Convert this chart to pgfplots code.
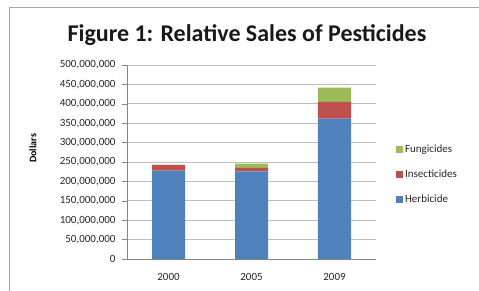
\documentclass[border=0pt]{standalone}
\usepackage{pgfplots}
\pgfplotsset{compat=1.18}
\usepackage{fontspec}
\setmainfont{Carlito}
\definecolor{exblue}{HTML}{4F81BD}
\definecolor{exred}{HTML}{C0504D}
\definecolor{exgreen}{HTML}{9BBB59}
\definecolor{gridc}{HTML}{BEBEBE}
\definecolor{axc}{HTML}{868686}
\begin{document}
\begin{tikzpicture}
\useasboundingbox (0pt,0pt) rectangle (479pt,291pt);
\draw[gray!70, line width=1pt] (9pt,0pt) -- (9pt,283pt) -- (479pt,283pt);
\node[font=\bfseries\fontsize{24}{28}\selectfont, text=black!90] at (247pt,256pt) {Figure 1: Relative Sales of Pesticides};
\begin{axis}[
  at={(127pt,32pt)}, anchor=south west,
  scale only axis, width=249pt, height=194pt,
  ybar stacked, bar width=33pt,
  xmin=-0.5, xmax=2.5, ymin=0, ymax=500000000,
  xtick={0,1,2}, xticklabels={2000,2005,2009},
  extra x ticks={-0.5,0.5,1.5,2.5}, extra x tick labels={},
  extra x tick style={major tick length=5pt, tick style={axc}, grid=none},
  xtick style={draw=none},
  ytick={0,50000000,...,500000000},
  scaled y ticks=false,
  yticklabel style={/pgf/number format/fixed, /pgf/number format/1000 sep={,}, font=\fontsize{11}{12}\selectfont, text=black!85, xshift=-3pt},
  xticklabel style={font=\fontsize{11}{12}\selectfont, text=black!85, yshift=-6pt},
  /pgf/number format/assume math mode=true,
  ymajorgrids, grid style={gridc, line width=0.8pt},
  axis x line*=bottom, axis y line*=left,
  axis line style={axc, line width=0.8pt},
  y axis line style={-}, x axis line style={-},
  ytick style={axc}, major tick length=5pt,
  tick align=outside,
  ylabel={\textbf{Dollars}}, ylabel style={font=\fontsize{10}{11}\selectfont, at={(axis description cs:-0.378,0.57)}, anchor=center},
  legend style={at={(1.08,0.60)}, anchor=north west, draw=none, font=\fontsize{11}{12}\selectfont, row sep=12pt, text=black!85, inner sep=0pt},
  legend cell align=left,
  legend image code/.code={\fill[#1] (0cm,-3.5pt) rectangle (7pt,3.5pt);},
  reverse legend,
]
\addplot[fill=exblue, draw=none] coordinates {(0,228000000) (1,226000000) (2,362000000)};
\addplot[fill=exred, draw=none] coordinates {(0,14000000) (1,9000000) (2,43000000)};
\addplot[fill=exgreen, draw=none] coordinates {(0,1500000) (1,11000000) (2,37000000)};
\legend{Herbicide,Insecticides,Fungicides}
\end{axis}
\end{tikzpicture}
\end{document}
